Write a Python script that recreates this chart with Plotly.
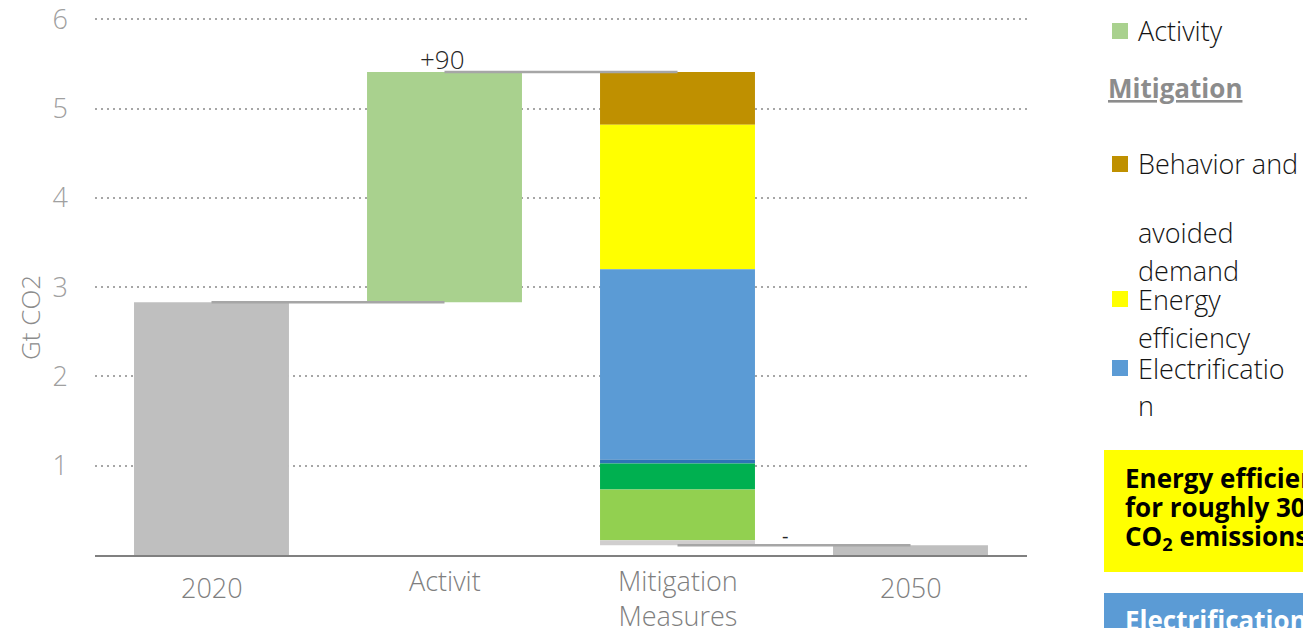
import plotly.graph_objects as go

# Emissions pathway, Gt CO2
categories = ["2020", "Activity", "Mitigation Measures", "2050"]
axis_labels = ["2020", "Activit", "Mitigation<br>Measures", "2050"]
start_2020 = 2.83
activity_delta = 2.58
end_2050 = 0.11

# Mitigation wedges, listed from the top of the stack downwards
mitigation_names = ["Behavior and avoided demand", "Energy efficiency", "Electrification",
                    "Hydrogen", "Renewables", "Other fuel switch", "Other"]
mitigation_values = [0.59, 1.62, 2.13, 0.045, 0.29, 0.57, 0.055]
mitigation_colors = ["#BF9000", "#FFFF00", "#5B9BD5", "#2E75B6", "#00B050", "#92D050", "#D0CECE"]

value_labels = ["+90", "-"]

W, H = 1303, 628
L, R, T, B = 95, 1027, 14, 555
Y_MAX = 6.06


def px(x):
    return (x - L) / (R - L)


def py(y):
    return (B - y) / (B - T)


fig = go.Figure()
bar_w = 0.665

fig.add_trace(go.Bar(x=[categories[0]], y=[start_2020], base=[0], width=bar_w,
                     marker=dict(color="#BFBFBF", line_width=0), hoverinfo="skip"))
fig.add_trace(go.Bar(x=[categories[1]], y=[activity_delta], base=[start_2020], width=bar_w,
                     marker=dict(color="#A9D18E", line_width=0), hoverinfo="skip"))

top = start_2020 + activity_delta
for name, val, col in zip(mitigation_names, mitigation_values, mitigation_colors):
    top -= val
    fig.add_trace(go.Bar(x=[categories[2]], y=[val], base=[top], width=bar_w, name=name,
                         marker=dict(color=col, line_width=0), hoverinfo="skip"))

fig.add_trace(go.Bar(x=[categories[3]], y=[end_2050], base=[0], width=bar_w,
                     marker=dict(color="#BFBFBF", line_width=0), hoverinfo="skip"))

# connector lines between bar tops
levels = [start_2020, start_2020 + activity_delta, end_2050]
for i, lv in enumerate(levels):
    fig.add_trace(go.Scatter(x=[categories[i], categories[i + 1]], y=[lv, lv], mode="lines",
                             line=dict(color="#A6A6A6", width=2.5), hoverinfo="skip"))

light = dict(family="Open Sans", weight=300)

ann = []
# category labels under the axis (positioned by category index)
label_y = [587, 580, 580, 587]
for i, (lab, yy) in enumerate(zip(axis_labels, label_y)):
    multi = "<br>" in lab
    ann.append(dict(x=i, xref="x", y=py(yy), yref="paper", text=lab, showarrow=False,
                    xanchor="center", yanchor="top" if multi else "middle",
                    yshift=20 if multi else 0,
                    font=dict(size=27, color="#7F7F7F", **light)))

ann.append(dict(x=1, xref="x", y=start_2020 + activity_delta, yref="y",
                text=value_labels[0], showarrow=False, xanchor="center", yanchor="bottom",
                xshift=-2, yshift=-7, font=dict(size=26, color="#262626", **light)))
ann.append(dict(x=px(785), xref="paper", y=py(535), yref="paper", text=value_labels[1],
                showarrow=False, xanchor="center", yanchor="middle",
                font=dict(size=20, color="#262626")))

ann.append(dict(x=px(30), xref="paper", y=py(318), yref="paper", text="Gt CO2", textangle=-90,
                showarrow=False, xanchor="center", yanchor="middle",
                font=dict(size=26, color="#8C8C8C", **light)))

# legend block on the right
dark = "#141414"
legend_lines = [("Activity", 31), ("Behavior and", 163), ("avoided", 232), ("demand", 270),
                ("Energy", 299), ("efficiency", 337), ("Electrificatio", 368), ("n", 405)]
for txt, yy in legend_lines:
    ann.append(dict(x=px(1136), xref="paper", y=py(yy), yref="paper", text=txt, showarrow=False,
                    xanchor="left", yanchor="middle", font=dict(size=27, color=dark, **light)))
ann.append(dict(x=px(1106), xref="paper", y=py(88), yref="paper",
                text="<b><u>Mitigation</u></b>", showarrow=False, xanchor="left",
                yanchor="middle", font=dict(size=26, color="#8C8C8C", family="Open Sans")))

shapes = []
swatches = [("#A9D18E", 31), ("#BF9000", 164), ("#FFFF00", 299), ("#5B9BD5", 368)]
for col, yy in swatches:
    shapes.append(dict(type="rect", xref="paper", yref="paper", x0=px(1112), x1=px(1128),
                       y0=py(yy + 8), y1=py(yy - 8), fillcolor=col, line_width=0))

# call-out boxes
shapes.append(dict(type="rect", xref="paper", yref="paper", x0=px(1104), x1=px(1400),
                   y0=py(572), y1=py(450), fillcolor="#FFFF00", line_width=0))
shapes.append(dict(type="rect", xref="paper", yref="paper", x0=px(1104), x1=px(1400),
                   y0=py(700), y1=py(593), fillcolor="#5B9BD5", line_width=0))
box_lines = [("<b>Energy efficiency accounts</b>", 478), ("<b>for roughly 30% of the</b>", 507),
             ("<b>CO<sub>2</sub> emissions reduction</b>", 537)]
for txt, yy in box_lines:
    ann.append(dict(x=px(1123), xref="paper", y=py(yy), yref="paper", text=txt, showarrow=False,
                    xanchor="left", yanchor="middle",
                    font=dict(size=26, color="#000000", family="Open Sans")))
ann.append(dict(x=px(1123), xref="paper", y=py(620), yref="paper",
                text="<b>Electrification accounts</b>", showarrow=False, xanchor="left",
                yanchor="middle", font=dict(size=26, color="#FFFFFF", family="Open Sans")))

fig.update_layout(
    width=W, height=H, margin=dict(l=L, r=W - R, t=T, b=H - B, autoexpand=False),
    paper_bgcolor="white", plot_bgcolor="white", barmode="overlay", showlegend=False,
    font=dict(family="Open Sans", color="#7F7F7F"),
    annotations=ann, shapes=shapes,
    xaxis=dict(type="category", categoryorder="array", categoryarray=categories,
               showticklabels=False, showgrid=False, showline=True, linecolor="#808080",
               linewidth=2, ticks="", range=[-0.5, 3.5], automargin=False),
    yaxis=dict(range=[0, Y_MAX], tickvals=[1, 2, 3, 4, 5, 6], showgrid=True, gridcolor="#A6A6A6",
               gridwidth=2, griddash="2px,4px", zeroline=False, showline=False, ticks="",
               ticklabelstandoff=26, automargin=False, ticklabeloverflow="allow",
               tickfont=dict(size=27, color="#A0A0A0", **light)),
)

fig.write_html("out.html")
